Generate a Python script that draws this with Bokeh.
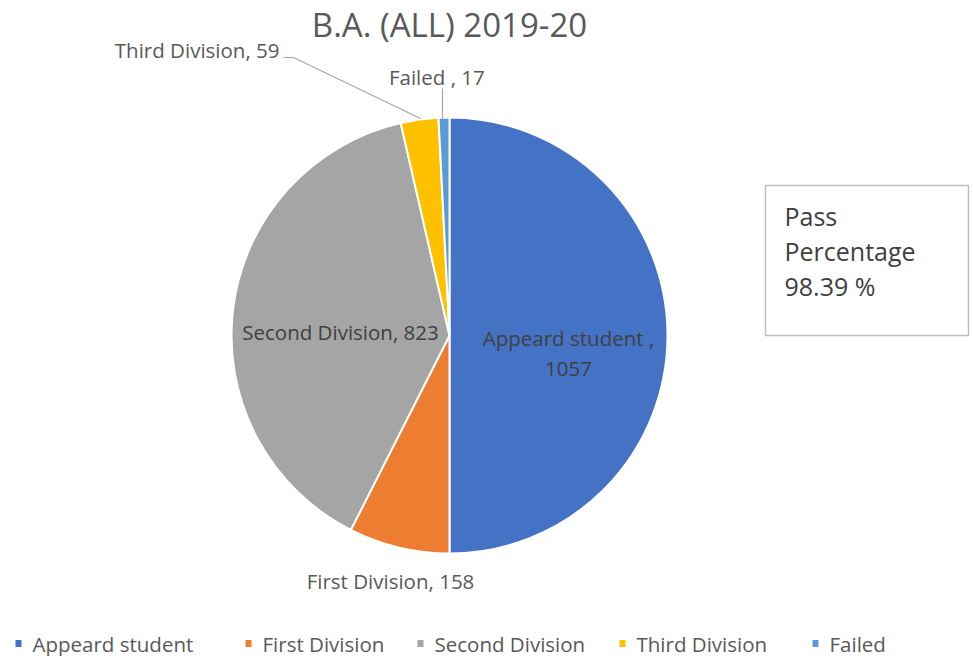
import math
from bokeh.plotting import figure
from bokeh.models import Range1d
from bokeh.core.properties import value
from bokeh.embed import file_html
from bokeh.resources import INLINE

# ---- data ----
title_text = "B.A. (ALL) 2019-20"
categories = ["Appeard student", "First Division", "Second Division", "Third Division", "Failed"]
label_names = ["Appeard student ,", "First Division,", "Second Division,", "Third Division,", "Failed  ,"]
values = [1057, 158, 823, 59, 17]
colors = ["#4472C4", "#ED7D31", "#A5A5A5", "#FFC000", "#5B9BD5"]
pass_lines = ["Pass", "Percentage", "98.39 %"]

# ---- layout (image pixel coords) ----
W, H = 970, 656
def X(px): return px
def Y(py): return H - py

FONT = value("Open Sans")
LFS = "20.5px"
cx, cy, R = X(449), Y(335), 218

p = figure(width=W, height=H, x_range=Range1d(0, W), y_range=Range1d(0, H),
           output_backend="svg", toolbar_location=None, min_border=0)
p.axis.visible = False
p.grid.visible = False
p.outline_line_color = None
p.background_fill_color = "white"

total = sum(values)
cum = 0
starts, ends = [], []
for v in values:
    a0 = math.pi / 2 - 2 * math.pi * cum / total
    cum += v
    a1 = math.pi / 2 - 2 * math.pi * cum / total
    starts.append(a1)
    ends.append(a0)

p.wedge(x=[cx] * len(values), y=[cy] * len(values), radius=R,
        start_angle=starts, end_angle=ends, fill_color=colors,
        line_color="white", line_width=2)

# title
p.text(x=[X(449)], y=[Y(24)], text=[title_text], text_font=FONT,
       text_font_size="33px", text_color="#595959",
       text_align="center", text_baseline="middle")

# data labels
lab_txt = [f"{n} {v}" for n, v in zip(label_names, values)]
p.text(x=[X(568)], y=[Y(337)], text=[label_names[0]], text_font=FONT,
       text_font_size=LFS, text_color="#404040", text_align="center", text_baseline="middle")
p.text(x=[X(568)], y=[Y(368)], text=[str(values[0])], text_font=FONT,
       text_font_size=LFS, text_color="#404040", text_align="center", text_baseline="middle")
p.text(x=[X(340)], y=[Y(331)], text=[lab_txt[2]], text_font=FONT,
       text_font_size=LFS, text_color="#404040", text_align="center", text_baseline="middle")
p.text(x=[X(390)], y=[Y(580)], text=[lab_txt[1]], text_font=FONT,
       text_font_size=LFS, text_color="#595959", text_align="center", text_baseline="middle")
p.text(x=[X(279)], y=[Y(49)], text=[lab_txt[3]], text_font=FONT,
       text_font_size=LFS, text_color="#595959", text_align="right", text_baseline="middle")
p.text(x=[X(439)], y=[Y(76)], text=[lab_txt[4]], text_font=FONT,
       text_font_size=LFS, text_color="#595959", text_align="center", text_baseline="middle")

# leader lines
p.line(x=[X(283), X(293), X(420)], y=[Y(57), Y(57), Y(118)], line_color="#a6a6a6", line_width=1.2)
p.line(x=[X(442), X(442)], y=[Y(88), Y(118)], line_color="#a6a6a6", line_width=1.2)

# pass percentage box
p.quad(left=[X(765)], right=[X(968)], top=[Y(185)], bottom=[Y(335)],
       fill_color="white", line_color="#bfbfbf", line_width=1.5)
for i, t in enumerate(pass_lines):
    p.text(x=[X(784)], y=[Y(215 + 35 * i)], text=[t], text_font=FONT,
           text_font_size="25px", text_color="#404040", text_align="left", text_baseline="middle")

# legend
leg_x = [18, 248, 420, 622, 815]
leg_y = Y(643)
p.rect(x=[X(v) for v in leg_x], y=[leg_y] * 5, width=6, height=7, fill_color=colors, line_color=None)
p.text(x=[X(v) + 14 for v in leg_x], y=[leg_y] * 5, text=categories, text_font=FONT,
       text_font_size=LFS, text_color="#595959", text_align="left", text_baseline="middle")

open("out.html", "w").write(file_html(p, INLINE))
